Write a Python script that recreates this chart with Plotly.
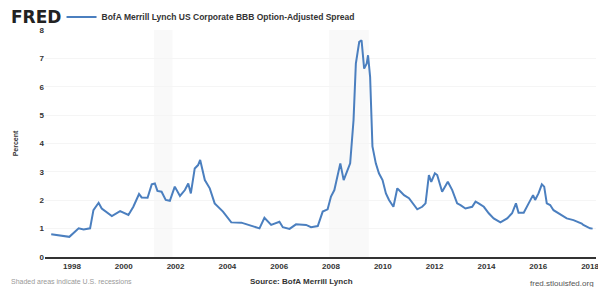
import plotly.graph_objects as go

years = [1997.2, 1997.6, 1997.9, 1998.26, 1998.45, 1998.7, 1998.83, 1999.03, 1999.15, 1999.54,
         1999.86, 2000.18, 2000.37, 2000.59, 2000.69, 2000.92, 2001.08, 2001.2, 2001.3, 2001.46,
         2001.62, 2001.78, 2001.97, 2002.17, 2002.36, 2002.49, 2002.59, 2002.74, 2002.87, 2002.95,
         2003.03, 2003.13, 2003.32, 2003.51, 2003.83, 2004.15, 2004.54, 2004.86, 2005.24, 2005.43,
         2005.69, 2006.01, 2006.14, 2006.4, 2006.65, 2007.04, 2007.23, 2007.49, 2007.68, 2007.87,
         2008.0, 2008.13, 2008.36, 2008.49, 2008.74, 2008.87, 2008.96, 2009.09, 2009.18, 2009.28,
         2009.38, 2009.43, 2009.51, 2009.6, 2009.73, 2009.85, 2009.99, 2010.12, 2010.24, 2010.41,
         2010.56, 2010.69, 2010.82, 2011.01, 2011.33, 2011.52, 2011.65, 2011.78, 2011.87, 2012.01,
         2012.1, 2012.29, 2012.51, 2012.68, 2012.87, 2013.0, 2013.19, 2013.45, 2013.58, 2013.7,
         2013.9, 2014.09, 2014.28, 2014.54, 2014.8, 2014.99, 2015.14, 2015.24, 2015.44, 2015.63,
         2015.8, 2015.88, 2016.01, 2016.14, 2016.23, 2016.33, 2016.46, 2016.59, 2016.85, 2017.1,
         2017.36, 2017.55, 2017.68, 2017.74, 2018.0, 2018.1]
spread = [0.80, 0.75, 0.71, 1.01, 0.97, 1.01, 1.65, 1.91, 1.71, 1.44,
          1.62, 1.48, 1.77, 2.22, 2.10, 2.09, 2.56, 2.59, 2.33, 2.30,
          2.01, 1.98, 2.48, 2.15, 2.36, 2.59, 2.24, 3.12, 3.24, 3.42,
          3.06, 2.71, 2.42, 1.89, 1.60, 1.22, 1.21, 1.13, 1.01, 1.38,
          1.13, 1.24, 1.05, 0.99, 1.15, 1.13, 1.05, 1.09, 1.60, 1.68,
          2.13, 2.36, 3.30, 2.71, 3.30, 4.82, 6.82, 7.58, 7.64, 6.64,
          6.82, 7.11, 6.35, 3.90, 3.30, 2.95, 2.71, 2.24, 2.01, 1.77,
          2.42, 2.30, 2.18, 2.07, 1.68, 1.77, 1.89, 2.89, 2.65, 2.95,
          2.89, 2.30, 2.65, 2.36, 1.89, 1.83, 1.71, 1.77, 1.95, 1.89,
          1.77, 1.54, 1.36, 1.22, 1.36, 1.54, 1.89, 1.56, 1.56, 1.89,
          2.18, 2.01, 2.24, 2.56, 2.48, 1.89, 1.83, 1.65, 1.51, 1.36,
          1.30, 1.24, 1.18, 1.13, 1.01, 1.00]
recessions = [(2001.17, 2001.88), (2007.92, 2009.46)]
x_ticks = [1998, 2000, 2002, 2004, 2006, 2008, 2010, 2012, 2014, 2016, 2018]
y_ticks = [0, 1, 2, 3, 4, 5, 6, 7, 8]
series_name = "BofA Merrill Lynch US Corporate BBB Option-Adjusted Spread"

FONT = "Liberation Sans, Arial, sans-serif"

fig = go.Figure()
fig.add_trace(go.Scatter(x=years, y=spread, mode="lines", name=series_name,
                         line=dict(color="#4b7fbf", width=2)))

for a, b in recessions:
    fig.add_vrect(x0=a, x1=b, fillcolor="#f9f9f9", line_width=0, layer="below")

fig.update_layout(
    width=598, height=279,
    margin=dict(l=37, r=10, t=22, b=30, autoexpand=False),
    paper_bgcolor="white", plot_bgcolor="white",
    font=dict(family=FONT, size=8, color="#333"),
    showlegend=True,
    legend=dict(x=0.03, y=1.057, xanchor="left", yanchor="middle",
                orientation="h", bgcolor="rgba(0,0,0,0)",
                font=dict(size=8.5, color="#333", weight="bold"),
                itemwidth=30),
    xaxis=dict(range=[1996.96, 2018.23], tickvals=x_ticks,
               ticktext=[str(t) for t in x_ticks], showgrid=False,
               showline=True, linecolor="#333", linewidth=2,
               ticks="", zeroline=False,
               tickfont=dict(size=8, color="#333", weight="bold")),
    yaxis=dict(range=[0, 8], tickvals=y_ticks, showgrid=True,
               gridcolor="#f5f5f5", zeroline=False, ticks="",
               tickfont=dict(size=8, color="#333", weight="bold"),
               title=dict(text="Percent", font=dict(size=7, color="#333", weight="bold"),
                          standoff=20)),
)

fig.add_annotation(text="FRED", xref="paper", yref="paper", x=-0.066, y=1.057,
                   xanchor="left", yanchor="middle", showarrow=False,
                   font=dict(family="DejaVu Sans, sans-serif", size=17, color="#222", weight="bold"))
fig.add_annotation(text="Shaded areas indicate U.S. recessions", xref="paper", yref="paper",
                   x=-0.066, y=-0.107, xanchor="left", yanchor="middle", showarrow=False,
                   font=dict(size=7, color="#999"))
fig.add_annotation(text="Source: BofA Merrill Lynch", xref="paper", yref="paper",
                   x=0.465, y=-0.11, xanchor="center", yanchor="middle", showarrow=False,
                   font=dict(size=8, color="#333", weight="bold"))
fig.add_annotation(text="fred.stlouisfed.org", xref="paper", yref="paper",
                   x=1.0, y=-0.115, xanchor="right", yanchor="middle", showarrow=False,
                   font=dict(size=8, color="#555"))

fig.write_html("out.html")
